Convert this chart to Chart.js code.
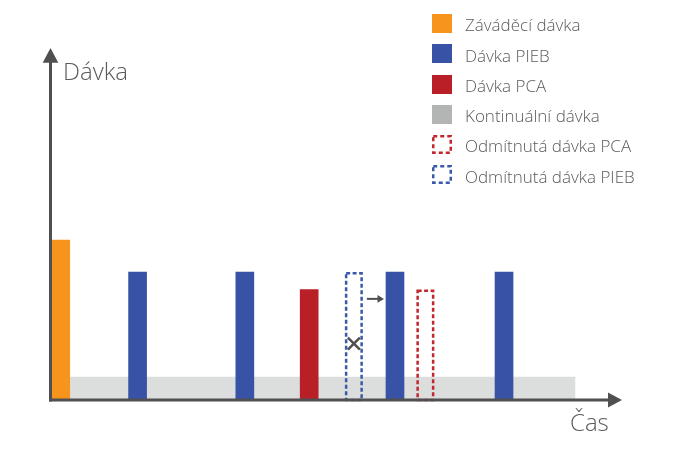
<!DOCTYPE html>
<html><head><meta charset="utf-8">
<script src="https://cdn.jsdelivr.net/npm/chart.js@4.4.1/dist/chart.umd.min.js"></script>
<style>
html,body{margin:0;padding:0;background:#fff;}
#wrap{position:relative;width:700px;height:453px;font-family:"Open Sans",sans-serif;font-weight:300;color:#5b5b5d;overflow:hidden;}
canvas{position:absolute;left:0;top:0;}
.t{position:absolute;white-space:nowrap;}
.row{position:absolute;left:432px;height:22px;width:260px;}
.row svg{position:absolute;left:0;top:2.5px;}
.row span{position:absolute;left:33px;top:4.9px;font-size:17px;line-height:17px;white-space:nowrap;}
</style></head><body>
<div id="wrap">
<canvas id="c" width="700" height="453"></canvas>
<div class="t" id="ylab" style="left:63px;top:59.4px;font-size:24px;line-height:24px;"></div>
<div class="t" id="xlab" style="left:570px;top:410.4px;font-size:24px;line-height:24px;"></div>
</div>
<script>
// ---- data ----
const seriesNames = ['Záváděcí dávka','Dávka PIEB','Dávka PCA','Kontinuální dávka','Odmítnutá dávka PCA','Odmítnutá dávka PIEB'];
const yAxisTitle = 'Dávka';
const xAxisTitle = 'Čas';
const loadingTimes = [6];
const loadingDoses = [10];
const piebTimes = [49, 109, 193, 254];
const piebDoses = [8, 8, 8, 8];
const pcaTimes = [145];
const pcaDoses = [6.9];
const rejectedPcaTimes = [210];
const rejectedPcaDoses = [6.9];
const rejectedPiebTimes = [170];
const rejectedPiebDoses = [8];
const continuousTimes = [11, 294];
const continuousDoses = [1.45, 1.45];

// ---- styles ----
const C = {orange:'#f7941e', blue:'#3853a5', red:'#b81f27', grey:'#b3b4b4', band:'#dcdddd',
           dashRed:'#c1272d', dashBlue:'#3a5aa8', axis:'#505052'};
const xMax = 320, yMax = 22;
const pts = (xs, ys) => xs.map((x, i) => ({x, y: ys[i]}));

document.getElementById('ylab').textContent = yAxisTitle;
document.getElementById('xlab').textContent = xAxisTitle;

// legend
const legendStyle = [
  {fill:C.orange},{fill:C.blue},{fill:C.red},{fill:C.grey},{dash:C.dashRed},{dash:C.dashBlue}
];
const wrap = document.getElementById('wrap');
seriesNames.forEach((name, i) => {
  const row = document.createElement('div');
  row.className = 'row';
  row.style.top = (11.5 + 30.25 * i) + 'px';
  const s = legendStyle[i];
  const svg = s.fill
    ? `<svg width="20" height="19"><rect x="0" y="0" width="20" height="19" fill="${s.fill}"/></svg>`
    : `<svg width="20" height="19"><rect x="1.25" y="1.25" width="17.5" height="16.5" fill="none" stroke="${s.dash}" stroke-width="2.5" stroke-dasharray="4 3"/></svg>`;
  row.innerHTML = svg + '<span></span>';
  row.querySelector('span').textContent = name;
  wrap.appendChild(row);
});

const overlay = {
  id: 'overlay',
  afterDatasetsDraw(chart) {
    const {ctx, chartArea: a, scales: {y}} = chart;
    ctx.save();
    const lw = 2.5;
    chart.data.datasets.forEach((ds, i) => {
      if (!ds.rejected) return;
      chart.getDatasetMeta(i).data.forEach(el => {
        const l = el.x - el.width / 2 + lw / 2, r = el.x + el.width / 2 - lw / 2;
        const t = el.y + lw / 2, b = el.base;
        ctx.setLineDash([4, 2.5]);
        ctx.lineWidth = lw;
        ctx.strokeStyle = ds.dashColor;
        ctx.strokeRect(l, t, r - l, b - t);
      });
    });
    ctx.setLineDash([]);
    ctx.strokeStyle = C.axis; ctx.fillStyle = C.axis;
    // delayed PIEB arrow and cross
    const rejIdx = chart.data.datasets.findIndex(d => d.delayed);
    const piebIdx = chart.data.datasets.findIndex(d => d.pieb);
    const piebEls = chart.getDatasetMeta(piebIdx).data;
    chart.getDatasetMeta(rejIdx).data.forEach((el, k) => {
      const dose = chart.data.datasets[rejIdx].data[k].y;
      const target = piebEls.filter(p => p.x > el.x).sort((p, q) => p.x - q.x)[0];
      if (target) {
        const ay = y.getPixelForValue(dose * 0.79);
        const x0 = el.x + el.width / 2 + 4, x1 = target.x - target.width / 2 - 2;
        ctx.lineWidth = 2;
        ctx.beginPath(); ctx.moveTo(x0, ay); ctx.lineTo(x1 - 5, ay); ctx.stroke();
        ctx.beginPath(); ctx.moveTo(x1, ay); ctx.lineTo(x1 - 6.5, ay - 3.8); ctx.lineTo(x1 - 6.5, ay + 3.8); ctx.closePath(); ctx.fill();
      }
      const cy = y.getPixelForValue(dose * 0.44), s = 6;
      ctx.lineWidth = 2.5;
      ctx.beginPath();
      ctx.moveTo(el.x - s, cy - s); ctx.lineTo(el.x + s, cy + s);
      ctx.moveTo(el.x + s, cy - s); ctx.lineTo(el.x - s, cy + s);
      ctx.stroke();
    });
    // axes
    ctx.lineWidth = 3;
    const ax = a.left + 0.5, ay0 = a.bottom;
    ctx.beginPath(); ctx.moveTo(ax, ay0 + 1.5); ctx.lineTo(ax, a.top + 12); ctx.stroke();
    ctx.beginPath(); ctx.moveTo(ax, a.top); ctx.lineTo(ax - 7.8, a.top + 14.7); ctx.lineTo(ax + 7.8, a.top + 14.7); ctx.closePath(); ctx.fill();
    ctx.beginPath(); ctx.moveTo(a.left - 1, ay0); ctx.lineTo(a.right - 12, ay0); ctx.stroke();
    ctx.beginPath(); ctx.moveTo(a.right, ay0); ctx.lineTo(a.right - 14, ay0 - 7.5); ctx.lineTo(a.right - 14, ay0 + 7.5); ctx.closePath(); ctx.fill();
    ctx.restore();
  }
};

new Chart(document.getElementById('c'), {
  type: 'bar',
  data: {
    datasets: [
      {label: seriesNames[0], data: pts(loadingTimes, loadingDoses), backgroundColor: C.orange},
      {label: seriesNames[1], data: pts(piebTimes, piebDoses), backgroundColor: C.blue, pieb: true},
      {label: seriesNames[2], data: pts(pcaTimes, pcaDoses), backgroundColor: C.red},
      {label: seriesNames[4], data: pts(rejectedPcaTimes, rejectedPcaDoses), backgroundColor: 'rgba(0,0,0,0)', rejected: true, dashColor: C.dashRed},
      {label: seriesNames[5], data: pts(rejectedPiebTimes, rejectedPiebDoses), backgroundColor: 'rgba(0,0,0,0)', rejected: true, delayed: true, dashColor: C.dashBlue},
      {type: 'line', label: seriesNames[3], data: pts(continuousTimes, continuousDoses), fill: 'origin',
       backgroundColor: C.band, borderWidth: 0, pointRadius: 0, order: 10}
    ]
  },
  options: {
    responsive: false, animation: false, events: [],
    layout: {padding: {left: 50, right: 78, top: 48, bottom: 53}},
    datasets: {bar: {barThickness: 18, grouped: false, borderWidth: 0}},
    scales: {
      x: {type: 'linear', min: 0, max: xMax, display: false, offset: false, grid: {offset: false}},
      y: {min: 0, max: yMax, display: false}
    },
    plugins: {legend: {display: false}, tooltip: {enabled: false}}
  },
  plugins: [overlay]
});
</script>
</body></html>
